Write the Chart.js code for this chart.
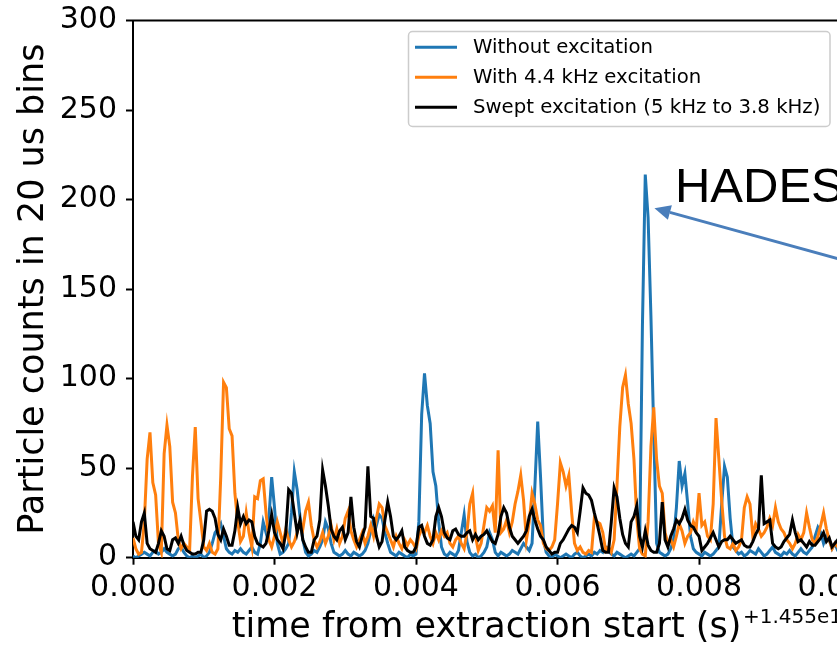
<!DOCTYPE html>
<html>
<head>
<meta charset="utf-8">
<script src="https://cdn.jsdelivr.net/npm/chart.js@4.4.1/dist/chart.umd.min.js"></script>
<style>
  html, body { margin: 0; padding: 0; background: #fff; overflow: hidden; }
  #wrap { width: 900px; height: 646px; }
</style>
</head>
<body>
<div id="wrap"><canvas id="chartBins" width="900" height="646"></canvas></div>
<script>
'use strict';

// traces every 40 us (two of the original 20 us bins)
const BIN = 0.00004;

const seriesLabels = ['Without excitation', 'With 4.4 kHz excitation', 'Swept excitation (5 kHz to 3.8 kHz)'];
const seriesColors = ['#1f77b4', '#ff7f0e', '#000000'];

const withoutExcitation = [
    1, 0, 1, 2, 3, 2, 1, 3, 4, 2,
    3, 5, 3, 2, 1, 2, 5, 6, 3, 1,
    0, 1, 0, 1, 2, 0, 1, 3, 8, 14,
    16, 19, 12, 5, 3, 2, 4, 3, 5, 3,
    2, 4, 6, 3, 2, 8, 20, 14, 22, 45,
    28, 8, 2, 3, 5, 8, 25, 48, 38, 23,
    10, 3, 1, 2, 4, 3, 6, 10, 20, 16,
    8, 3, 2, 1, 2, 4, 2, 1, 3, 2,
    1, 2, 4, 8, 15, 22, 18, 24, 22, 14,
    8, 3, 2, 1, 3, 2, 1, 0, 2, 1,
    2, 20, 80, 103, 85, 75, 48, 40, 20, 6,
    2, 1, 3, 2, 1, 4, 14, 24, 9, 3,
    1, 2, 0, 1, 3, 6, 14, 10, 3, 1,
    3, 2, 1, 2, 4, 3, 2, 5, 8, 6,
    4, 8, 40, 76, 45, 10, 3, 1, 0, 2,
    1, 0, 1, 2, 1, 0, 2, 3, 1, 0,
    1, 2, 1, 3, 2, 4, 3, 6, 4, 2,
    1, 3, 2, 1, 0, 1, 2, 1, 3, 5,
    130, 214, 190, 135, 70, 8, 3, 2, 1, 2,
    5, 10, 28, 54, 40, 47, 30, 12, 5, 3,
    2, 1, 3, 2, 1, 2, 4, 6, 30, 51,
    45, 22, 6, 4, 2, 3, 1, 2, 4, 3,
    2, 5, 3, 1, 2, 4, 6, 3, 2, 1,
    3, 2, 4, 2, 1, 3, 5, 3, 2, 4,
    6, 12, 17, 14, 8, 12, 10, 5, 8, 4, 3
];

const with44kHz = [
    11, 5, 2, 3, 20, 55, 70, 42, 35, 8,
    3, 58, 74, 62, 31, 25, 10, 5, 8, 6,
    4, 45, 73, 33, 20, 6, 4, 8, 3, 2,
    5, 45, 98, 95, 72, 68, 36, 20, 9, 12,
    25, 14, 6, 34, 33, 43, 44, 25, 10, 6,
    12, 20, 14, 8, 16, 10, 6, 9, 14, 20,
    16, 26, 31, 18, 10, 6, 9, 14, 8, 12,
    18, 10, 16, 8, 12, 22, 26, 15, 10, 6,
    10, 14, 8, 12, 18, 12, 22, 30, 28, 18,
    14, 10, 6, 12, 8, 5, 10, 7, 10, 8,
    5, 12, 16, 14, 18, 12, 8, 14, 10, 15,
    12, 14, 8, 6, 10, 12, 8, 5, 14, 30,
    36, 12, 4, 8, 18, 28, 26, 29, 14, 60,
    14, 16, 21, 14, 20, 30, 37, 46, 32, 10,
    20, 36, 30, 21, 18, 8, 5, 4, 6, 10,
    30, 53, 48, 40, 46, 25, 8, 4, 6, 3,
    2, 4, 3, 22, 20, 19, 14, 4, 6, 3,
    10, 40, 73, 95, 102, 86, 75, 55, 22, 5,
    2, 1, 20, 62, 84, 55, 40, 36, 14, 8,
    10, 6, 12, 19, 15, 8, 12, 14, 20, 16,
    36, 18, 20, 12, 10, 30, 78, 55, 32, 12,
    6, 5, 8, 4, 6, 10, 28, 34, 30, 12,
    19, 16, 12, 14, 17, 22, 18, 28, 20, 16,
    14, 10, 8, 5, 8, 13, 10, 14, 25, 17,
    10, 8, 12, 18, 25, 16, 10, 5, 8, 6, 10
];

const sweptExcitation = [
    20, 12, 10, 20, 25, 8, 5, 4, 3, 8,
    15, 12, 5, 4, 10, 11, 8, 12, 7, 4,
    3, 2, 2, 3, 3, 10, 26, 27, 26, 22,
    13, 10, 16, 12, 7, 7, 15, 28, 19, 23,
    19, 21, 20, 12, 8, 7, 6, 8, 15, 24,
    14, 10, 8, 5, 14, 38, 36, 25, 14, 21,
    10, 6, 3, 3, 10, 12, 21, 49, 40, 29,
    16, 12, 10, 15, 17, 10, 14, 34, 17, 9,
    6, 12, 17, 51, 23, 22, 12, 6, 9, 21,
    31, 23, 12, 10, 12, 15, 6, 4, 3, 3,
    6, 17, 18, 12, 8, 7, 10, 23, 28, 23,
    14, 11, 10, 15, 16, 13, 12, 12, 14, 15,
    10, 13, 10, 12, 13, 15, 12, 9, 8, 13,
    23, 28, 25, 17, 12, 10, 8, 10, 12, 15,
    23, 27, 21, 16, 12, 10, 6, 4, 2, 3,
    3, 8, 10, 13, 16, 18, 17, 14, 26, 39,
    36, 35, 32, 25, 19, 12, 4, 3, 3, 20,
    39, 34, 22, 13, 8, 6, 20, 23, 29, 12,
    6, 15, 7, 4, 3, 3, 8, 31, 10, 6,
    12, 16, 21, 19, 22, 27, 21, 18, 17, 14,
    12, 4, 6, 8, 11, 14, 10, 6, 9, 10,
    10, 12, 10, 8, 9, 10, 7, 6, 6, 9,
    13, 16, 46, 19, 20, 21, 8, 6, 5, 6,
    9, 11, 13, 21, 14, 9, 10, 8, 6, 9,
    7, 7, 9, 11, 14, 9, 11, 6, 8, 10, 7
];

const xTicks = [0, 0.002, 0.004, 0.006, 0.008, 0.010];
const yTicks = [0, 50, 100, 150, 200, 250, 300];
const xTitle = 'time from extraction start (s)';
const xOffsetText = '+1.455e1';
const yTitle = 'Particle counts in 20 us bins';

// the slide annotation pointing at the spike
const hadesText = 'HADES';
const hadesAt = [0.00766, 198.8];
const arrowTip = [0.00737, 195.2];
const arrowTail = [0.01084, 157.4];

function toPoints(values) {
    return values.map(function (v, i) { return { x: i * BIN, y: v }; });
}

const extras = {
    id: 'extras',
    afterDraw(chart) {
        const { ctx, chartArea: area } = chart;
        const xs = chart.scales.x, ys = chart.scales.y;
        ctx.save();

        // top / right spines
        ctx.strokeStyle = '#000';
        ctx.lineWidth = 2;
        ctx.beginPath();
        ctx.moveTo(area.left - 1, area.top);
        ctx.lineTo(area.right, area.top);
        ctx.lineTo(area.right, area.bottom);
        ctx.stroke();

        // axis titles
        ctx.fillStyle = '#000';
        ctx.font = '35px "DejaVu Sans"';
        ctx.textBaseline = 'alphabetic';
        ctx.textAlign = 'center';
        ctx.fillText(xTitle, 486.5, 637);
        ctx.save();
        ctx.translate(43, (area.top + area.bottom) / 2);
        ctx.rotate(-Math.PI / 2);
        ctx.fillText(yTitle, 0, 0);
        ctx.restore();
        ctx.textAlign = 'left';
        ctx.font = '20px "DejaVu Sans"';
        ctx.fillText(xOffsetText, 743, 623);

        // legend
        const lx = 408.5, ly = 31.5, lw = 421.5, lh = 95;
        ctx.beginPath();
        ctx.roundRect(lx, ly, lw, lh, 4);
        ctx.fillStyle = 'rgba(255,255,255,0.8)';
        ctx.fill();
        ctx.strokeStyle = '#cccccc';
        ctx.lineWidth = 1.5;
        ctx.stroke();
        ctx.font = '19.7px "DejaVu Sans"';
        chart.data.datasets.forEach(function (ds, i) {
            const rowY = 47.3 + i * 30;
            ctx.strokeStyle = ds.borderColor;
            ctx.lineWidth = 3;
            ctx.beginPath();
            ctx.moveTo(415, rowY);
            ctx.lineTo(457, rowY);
            ctx.stroke();
            ctx.fillStyle = '#000';
            ctx.fillText(ds.label, 473, rowY + 6);
        });

        // HADES label and arrow
        ctx.font = '49px "Liberation Sans", Arial, sans-serif';
        ctx.fillStyle = '#000';
        ctx.fillText(hadesText, xs.getPixelForValue(hadesAt[0]), ys.getPixelForValue(hadesAt[1]));

        const tx = xs.getPixelForValue(arrowTip[0]), ty = ys.getPixelForValue(arrowTip[1]);
        const sx = xs.getPixelForValue(arrowTail[0]), sy = ys.getPixelForValue(arrowTail[1]);
        const ang = Math.atan2(ty - sy, tx - sx);
        const headLen = 16, headHalf = 7.5;
        const bx = tx - headLen * Math.cos(ang), by = ty - headLen * Math.sin(ang);
        ctx.strokeStyle = '#4a7ebb';
        ctx.fillStyle = '#4a7ebb';
        ctx.lineWidth = 3;
        ctx.beginPath();
        ctx.moveTo(sx, sy);
        ctx.lineTo(bx, by);
        ctx.stroke();
        ctx.beginPath();
        ctx.moveTo(tx, ty);
        ctx.lineTo(bx + headHalf * Math.sin(ang), by - headHalf * Math.cos(ang));
        ctx.lineTo(bx - headHalf * Math.sin(ang), by + headHalf * Math.cos(ang));
        ctx.closePath();
        ctx.fill();

        ctx.restore();
    }
};

const tickFont = { family: 'DejaVu Sans', size: 30 };

const config = {
    type: 'line',
    data: {
        datasets: [
            { label: seriesLabels[0], data: toPoints(withoutExcitation), borderColor: seriesColors[0], order: 3 },
            { label: seriesLabels[1], data: toPoints(with44kHz), borderColor: seriesColors[1], order: 2 },
            { label: seriesLabels[2], data: toPoints(sweptExcitation), borderColor: seriesColors[2], order: 1 }
        ]
    },
    options: {
        responsive: false,
        animation: false,
        devicePixelRatio: 1,
        layout: { padding: { left: 0, top: 20.5, right: 17, bottom: 0 } },
        elements: {
            line: { borderWidth: 3, tension: 0, fill: false },
            point: { radius: 0 }
        },
        plugins: {
            legend: { display: false },
            tooltip: { enabled: false }
        },
        scales: {
            x: {
                type: 'linear',
                min: 0,
                max: 0.0106,
                afterBuildTicks: function (axis) { axis.ticks = xTicks.map(v => ({ value: v })); },
                afterFit: function (axis) {
                    axis.height = 88.3;
                    axis.paddingLeft = 0;
                    axis.paddingRight = 0;
                },
                ticks: {
                    font: tickFont, color: '#000', padding: 6, maxRotation: 0,
                    callback: v => v.toFixed(3)
                },
                grid: { drawOnChartArea: false, drawTicks: true, tickLength: 7, tickColor: '#000', tickWidth: 2 },
                border: { display: true, color: '#000', width: 2 }
            },
            y: {
                min: 0,
                max: 300,
                afterBuildTicks: function (axis) { axis.ticks = yTicks.map(v => ({ value: v })); },
                afterFit: function (axis) {
                    axis.width = 133;
                    axis.paddingTop = 0;
                    axis.paddingBottom = 0;
                },
                ticks: { font: tickFont, color: '#000', padding: 9 },
                grid: { drawOnChartArea: false, drawTicks: true, tickLength: 7, tickColor: '#000', tickWidth: 2 },
                border: { display: true, color: '#000', width: 2 }
            }
        }
    },
    plugins: [extras]
};

var chartBins = new Chart(document.getElementById('chartBins'), config);
</script>
</body>
</html>
